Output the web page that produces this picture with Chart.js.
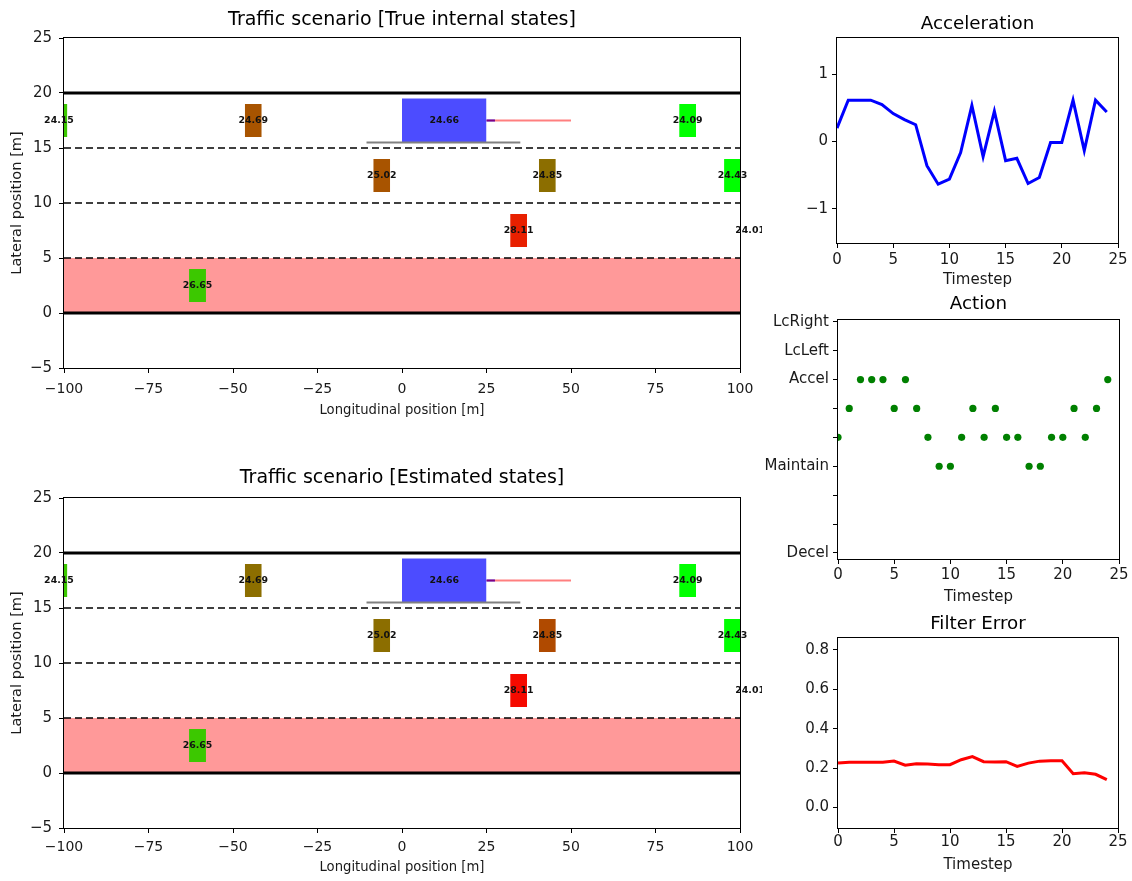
<!DOCTYPE html>
<html>
<head>
<meta charset="utf-8">
<script src="https://cdn.jsdelivr.net/npm/chart.js@4.4.1/dist/chart.umd.min.js"></script>
<style>
    body { margin: 0; background: #fff; width: 1132px; height: 881px; position: relative; overflow: hidden; }
    canvas { position: absolute; }
</style>
</head>
<body>
<canvas id="trueChart"></canvas>
<canvas id="estChart"></canvas>
<canvas id="accelChart"></canvas>
<canvas id="actionChart"></canvas>
<canvas id="errorChart"></canvas>
<script>
// --- Scene data ---
const LONG_TICKS = [-100, -75, -50, -25, 0, 25, 50, 75, 100];
const LAT_TICKS = [-5, 0, 5, 10, 15, 20, 25];
const LANE_EDGES = [0, 20];          // solid road borders
const LANE_DIVIDERS = [5, 10, 15];   // dashed markings
const RISK_LANE = [0, 5];            // shaded lane

// other vehicles: centre position [m] and speed
const carX = [-101.5, -44, 84.5, -6, 43, 97.8, 34.5, 103, -60.5];
const carY = [17.5, 17.5, 17.5, 12.5, 12.5, 12.5, 7.5, 7.5, 2.5];
const carSpeed = [24.15, 24.69, 24.09, 25.02, 24.85, 24.43, 28.11, 24.01, 26.65];
const trueColors = ['#3cc800', '#a85400', '#00ff00', '#a85400', '#8c6e00', '#00ff00', '#e82000', '#00ff00', '#3cc800'];
const estColors = ['#3cc800', '#8c6e00', '#00ff00', '#8c6e00', '#b04a00', '#00ff00', '#f50a00', '#00ff00', '#3cc800'];
const CAR_LEN = 5, CAR_WID = 3;

// ego vehicle
const EGO_X = 12.5, EGO_Y = 17.5, EGO_LEN = 25, EGO_WID = 4, EGO_SPEED = 24.66;
const GAP_X = [-10.5, 35], GAP_Y = 15.5;
const SPEED_X = [25, 27.5];
const PLAN_X = [25, 50];

// --- Time series ---
const TIMESTEPS = [0, 1, 2, 3, 4, 5, 6, 7, 8, 9, 10, 11, 12, 13, 14, 15, 16, 17, 18, 19, 20, 21, 22, 23, 24];
const STEP_TICKS = [0, 5, 10, 15, 20, 25];
const accel = [0.2, 0.615, 0.615, 0.615, 0.55, 0.415, 0.325, 0.25, -0.36, -0.635, -0.56, -0.165, 0.535,
    -0.225, 0.45, -0.285, -0.25, -0.625, -0.535, -0.015, -0.015, 0.615, -0.135, 0.615, 0.44];
const ACCEL_TICKS = [-1, 0, 1];
const action = [4, 5, 6, 6, 6, 5, 6, 5, 4, 3, 3, 4, 5, 4, 5, 4, 4, 3, 3, 4, 4, 5, 4, 5, 6];
const ACTION_TICKS = [0, 1, 2, 3, 4, 5, 6, 7, 8];
const ACTION_LABELS = ['Decel', '', '', 'Maintain', '', '', 'Accel', 'LcLeft', 'LcRight'];
const filterErr = [0.225, 0.229, 0.229, 0.229, 0.229, 0.235, 0.214, 0.222, 0.22, 0.217, 0.217, 0.242, 0.258,
    0.232, 0.23, 0.232, 0.208, 0.225, 0.235, 0.237, 0.237, 0.171, 0.176, 0.168, 0.141];
const ERR_TICKS = [0, 0.2, 0.4, 0.6, 0.8];

Chart.defaults.font.family = "'DejaVu Sans', sans-serif";
Chart.defaults.color = '#1a1a1a';

const minus = s => String(s).replace('-', '\u2212');

// box around the plot area, drawn over the data like matplotlib spines
const framePlugin = {
    id: 'frame',
    afterDatasetsDraw(chart) {
        const { ctx, chartArea: a } = chart;
        ctx.save();
        ctx.strokeStyle = '#000';
        ctx.lineWidth = 1;
        ctx.strokeRect(Math.round(a.left) - 0.5, Math.round(a.top) - 0.5,
            Math.round(a.right - a.left) + 1, Math.round(a.bottom - a.top) + 1);
        ctx.restore();
    }
};

// speed text on every vehicle (not clipped to the axes)
const speedLabelPlugin = {
    id: 'speedLabels',
    afterDraw(chart) {
        const { ctx, scales: { x, y } } = chart;
        ctx.save();
        ctx.font = "bold 9.4px 'DejaVu Sans'";
        ctx.textAlign = 'center';
        ctx.textBaseline = 'middle';
        ctx.fillStyle = '#111';
        carX.forEach((cx, i) => {
            ctx.fillText(carSpeed[i].toFixed(2), x.getPixelForValue(cx), y.getPixelForValue(carY[i]));
        });
        ctx.fillText(EGO_SPEED.toFixed(2), x.getPixelForValue(EGO_X), y.getPixelForValue(EGO_Y));
        ctx.restore();
    }
};

function hline(v, style) {
    return Object.assign({ data: [{ x: LONG_TICKS[0], y: v }, { x: LONG_TICKS[LONG_TICKS.length - 1], y: v }], fill: false }, style);
}

function rect(cx, cy, len, wid, color) {
    return {
        data: [{ x: cx - len / 2, y: cy + wid / 2 }, { x: cx + len / 2, y: cy + wid / 2 }],
        fill: { value: cy - wid / 2 },
        backgroundColor: color,
        borderWidth: 0,
        borderColor: 'rgba(0,0,0,0)'
    };
}

function seg(xs, y, color, width) {
    return { data: xs.map(x => ({ x: x, y: y })), borderColor: color, borderWidth: width, fill: false };
}

function trafficDatasets(colors) {
    const ds = [];
    ds.push({
        data: [{ x: LONG_TICKS[0], y: RISK_LANE[1] }, { x: LONG_TICKS[LONG_TICKS.length - 1], y: RISK_LANE[1] }],
        fill: { value: RISK_LANE[0] }, backgroundColor: 'rgba(255,0,0,0.4)', borderWidth: 0
    });
    LANE_DIVIDERS.forEach(v => ds.push(hline(v, { borderColor: '#000', borderWidth: 1.5, borderDash: [7, 4] })));
    LANE_EDGES.forEach(v => ds.push(hline(v, { borderColor: '#000', borderWidth: 3 })));
    carX.forEach((cx, i) => ds.push(rect(cx, carY[i], CAR_LEN, CAR_WID, colors[i])));
    ds.push(rect(EGO_X, EGO_Y, EGO_LEN, EGO_WID, 'rgba(0,0,255,0.7)'));
    ds.push(seg(GAP_X, GAP_Y, '#808080', 2));
    ds.push(seg(SPEED_X, EGO_Y, '#0000ff', 2));
    ds.push(seg(PLAN_X, EGO_Y, 'rgba(255,0,0,0.5)', 2));
    // first dataset is painted last in Chart.js, so give later ones a lower order
    return ds.map((d, i, arr) => Object.assign({ order: arr.length - i, pointRadius: 0, tension: 0, clip: 0 }, d));
}

// places a canvas and pins its plot area to the given pixel box
function buildChart(id, box, spec) {
    const cv = document.getElementById(id);
    cv.width = box.w; cv.height = box.h;
    cv.style.left = box.x + 'px';
    cv.style.top = box.y + 'px';
    const a = box.area;

    const tLh = spec.titleSize * 1.2;
    const titleTop = box.titleY - box.y - tLh / 2;
    const titleBottom = a.t - box.y - tLh - titleTop;
    const xLh = spec.xLabelSize * 1.2;
    const yLh = spec.yLabelSize * 1.2;
    const tickLh = spec.xTickSize * 1.2;
    const xAxisH = box.y + box.h - a.b;
    const yAxisW = a.l - box.x;

    const xScale = {
        type: 'linear',
        min: spec.xMin, max: spec.xMax,
        afterBuildTicks: s => { s.ticks = spec.xTicks.map(v => ({ value: v })); },
        afterFit: s => { s.height = xAxisH; },
        ticks: {
            autoSkip: false, maxRotation: 0,
            padding: Math.max(0, box.xTickY - a.b - 5 - tickLh / 2),
            font: { size: spec.xTickSize },
            callback: v => minus(v)
        },
        grid: { drawOnChartArea: false, drawTicks: true, tickLength: 5, color: '#000' },
        border: { display: false },
        title: {
            display: true, text: spec.xLabel,
            font: { size: spec.xLabelSize, lineHeight: 1.2 },
            padding: { top: 0, bottom: box.y + box.h - box.xTitleY - xLh / 2 }
        }
    };

    const yScale = {
        type: 'linear',
        min: spec.yMin, max: spec.yMax,
        afterBuildTicks: s => { s.ticks = spec.yTicks.map(v => ({ value: v })); },
        afterFit: s => { s.width = yAxisW; },
        ticks: {
            autoSkip: false,
            padding: spec.yTickPad,
            font: { size: spec.yTickSize },
            callback: spec.yFormat || (v => minus(v))
        },
        grid: { drawOnChartArea: false, drawTicks: true, tickLength: 5, color: '#000' },
        border: { display: false },
        title: spec.yLabel ? {
            display: true, text: spec.yLabel,
            font: { size: spec.yLabelSize, lineHeight: 1.2 },
            padding: { top: box.yTitleX - box.x - yLh / 2, bottom: 0 }
        } : { display: false }
    };

    return new Chart(cv, {
        type: spec.type,
        data: { datasets: spec.datasets },
        options: {
            responsive: false,
            animation: false,
            devicePixelRatio: 1,
            layout: { padding: { left: 0, top: 0, bottom: 0, right: box.x + box.w - a.r } },
            plugins: {
                legend: { display: false },
                tooltip: { enabled: false },
                title: {
                    display: true, text: spec.title, fullSize: false, color: '#000',
                    font: { size: spec.titleSize, weight: 'normal', lineHeight: 1.2 },
                    padding: { top: titleTop, bottom: titleBottom }
                }
            },
            scales: { x: xScale, y: yScale }
        },
        plugins: spec.plugins || [framePlugin]
    });
}

const trafficSpec = (title, colors) => ({
    type: 'line',
    title: title,
    titleSize: 19, xTickSize: 14, yTickSize: 15, xLabelSize: 13.2, yLabelSize: 14.6, yTickPad: 7,
    xMin: -100, xMax: 100, xTicks: LONG_TICKS,
    yMin: -5, yMax: 25, yTicks: LAT_TICKS,
    xLabel: 'Longitudinal position [m]',
    yLabel: 'Lateral position [m]',
    datasets: trafficDatasets(colors),
    plugins: [framePlugin, speedLabelPlugin]
});

buildChart('trueChart',
    { x: 0, y: 0, w: 762, h: 430, area: { l: 64, t: 38, r: 740, b: 368 }, titleY: 20, xTickY: 389, xTitleY: 411, yTitleX: 17.5 },
    trafficSpec('Traffic scenario [True internal states]', trueColors));

buildChart('estChart',
    { x: 0, y: 458, w: 762, h: 423, area: { l: 64, t: 498, r: 740, b: 828 }, titleY: 478, xTickY: 847, xTitleY: 868, yTitleX: 17.5 },
    trafficSpec('Traffic scenario [Estimated states]', estColors));

const stepSpec = {
    titleSize: 18.3, xTickSize: 15, yTickSize: 15, xLabelSize: 15, yLabelSize: 15, yTickPad: 4,
    xMin: 0, xMax: 25, xTicks: STEP_TICKS, xLabel: 'Timestep'
};

buildChart('accelChart',
    { x: 770, y: 0, w: 362, h: 292, area: { l: 837, t: 38, r: 1118, b: 243 }, titleY: 24, xTickY: 260, xTitleY: 280 },
    Object.assign({}, stepSpec, {
        type: 'line', title: 'Acceleration',
        yMin: -1.51, yMax: 1.54, yTicks: ACCEL_TICKS,
        datasets: [{
            data: TIMESTEPS.map((t, i) => ({ x: t, y: accel[i] })),
            borderColor: '#0000ff', borderWidth: 3, pointRadius: 0, tension: 0, fill: false, clip: 0
        }]
    }));

buildChart('actionChart',
    { x: 740, y: 288, w: 392, h: 318, area: { l: 838, t: 320, r: 1119, b: 559 }, titleY: 304, xTickY: 575, xTitleY: 597 },
    Object.assign({}, stepSpec, {
        type: 'scatter', title: 'Action',
        yMin: -0.21, yMax: 8.06, yTicks: ACTION_TICKS,
        yFormat: v => ACTION_LABELS[v] || '',
        datasets: [{
            data: TIMESTEPS.map((t, i) => ({ x: t, y: action[i] })),
            backgroundColor: '#008000', borderWidth: 0, pointRadius: 3.6, clip: 0
        }]
    }));

buildChart('errorChart',
    { x: 770, y: 606, w: 362, h: 275, area: { l: 838, t: 638, r: 1118, b: 828 }, titleY: 624, xTickY: 842, xTitleY: 865 },
    Object.assign({}, stepSpec, {
        type: 'line', title: 'Filter Error',
        yMin: -0.105, yMax: 0.861, yTicks: ERR_TICKS,
        yFormat: v => v.toFixed(1),
        datasets: [{
            data: TIMESTEPS.map((t, i) => ({ x: t, y: filterErr[i] })),
            borderColor: '#ff0000', borderWidth: 3, pointRadius: 0, tension: 0, fill: false, clip: 0
        }]
    }));
</script>
</body>
</html>
